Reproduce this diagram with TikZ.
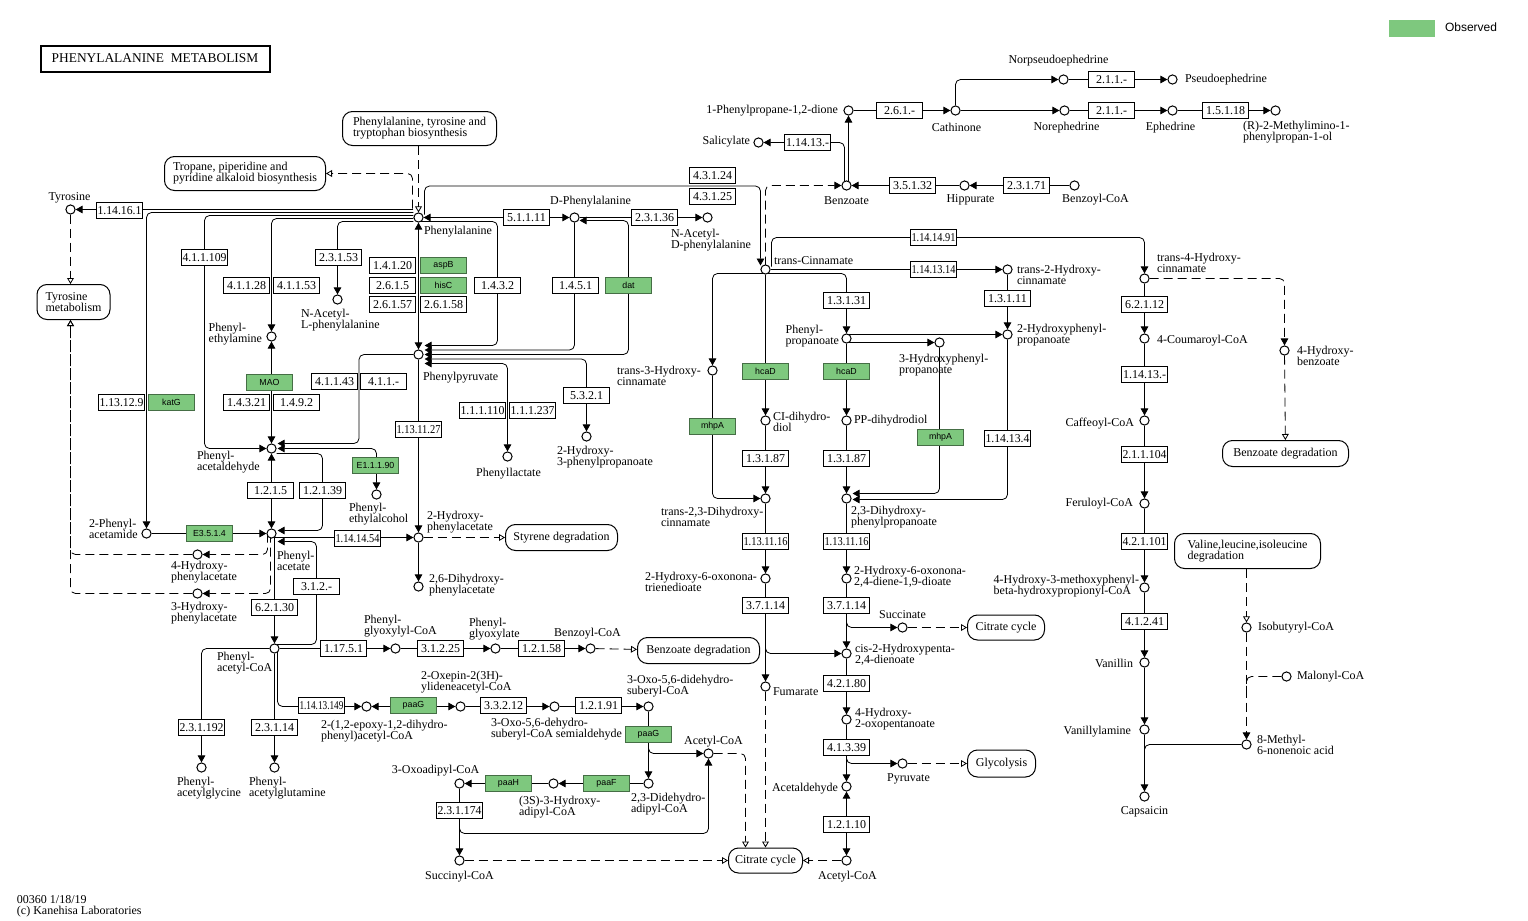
\documentclass[tikz,border=0pt]{standalone}
\usepackage{fontspec}
\setmainfont{Liberation Serif}
\newfontfamily\keggsans{Liberation Sans}
\usepackage{graphicx}
\usetikzlibrary{arrows.meta,calc,backgrounds}
\definecolor{obsGreen}{RGB}{126,200,126}
\newcommand\lblfont{\fontsize{6}{5.6}\selectfont}
\newcommand\ecfont{\fontsize{6}{6}\selectfont}
\newcommand\obsfont{\keggsans\fontsize{4.4}{5}\selectfont}
\newsavebox\ecbox
\newcommand\ecfit[1]{\sbox\ecbox{#1}\ifdim\wd\ecbox>22pt\resizebox{22pt}{\height}{\usebox\ecbox}\else\usebox\ecbox\fi}

\begin{document}
\begin{tikzpicture}[x=0.5pt,y=-0.5pt,line width=0.5pt,
    cpd/.style={circle,draw,fill=white,inner sep=0pt,minimum size=4.6pt},
    ec/.style={draw,fill=white,inner sep=0pt,minimum width=23pt,minimum height=8.2pt,font=\ecfont},
    obs/.style={ec,fill=obsGreen,draw=obsGreen!55!black,font=\obsfont},
    mapbox/.style={draw,fill=white,rounded corners=5pt,inner sep=0pt,font=\lblfont,align=left},
    lbl/.style={inner sep=0pt,font=\lblfont,align=left},
    rx/.style={-{Triangle[length=3.5pt,width=3.8pt]}},
    rxb/.style={{Triangle[length=3.5pt,width=3.8pt]}-{Triangle[length=3.5pt,width=3.8pt]}},
    dsh/.style={dash pattern=on 4.5pt off 2.5pt},
    dl/.style={dsh,-{Triangle[open,length=3pt,width=3.4pt]}}]
  \useasboundingbox (-0.5,-0.5) rectangle (1527.5,920.5);

  % ── TITLE, LEGEND, FOOTER ──────────────────────────────
  \node[draw,line width=1pt,minimum width=114.5pt,minimum height=13pt,inner sep=0pt,
        font=\fontsize{6.7}{7}\selectfont] (title) at (154.5,58) {PHENYLALANINE\ \ METABOLISM};
  \node[fill=obsGreen,minimum width=23pt,minimum height=8.5pt,inner sep=0pt] (legkey) at (1411,28) {};
  \node[anchor=west,inner sep=0pt,font=\keggsans\fontsize{6}{7}\selectfont] (legtext) at (1444,27) {Observed};
  \node[lbl,anchor=west] (footer) at (16,905.5) {00360 1/18/19\\(c) Kanehisa Laboratories};

  % ── MAPS ───────────────────────────────────────────────
  \node[mapbox,minimum width=77pt,minimum height=17pt] (mPheBio) at (419,128) {Phenylalanine, tyrosine and\\tryptophan biosynthesis};
  \node[mapbox,minimum width=80.5pt,minimum height=17pt] (mTrop) at (244.5,173) {Tropane, piperidine and\\pyridine alkaloid biosynthesis};
  \node[mapbox,minimum width=36.5pt,minimum height=17.5pt] (mTyr) at (73,301.5) {Tyrosine\\metabolism};
  \node[mapbox,minimum width=56pt,minimum height=13pt] (mSty) at (561,537) {Styrene degradation};
  \node[mapbox,minimum width=61pt,minimum height=13pt] (mBzd1) at (698,650) {Benzoate degradation};
  \node[mapbox,minimum width=38.5pt,minimum height=12.5pt] (mCit1) at (1005.5,627) {Citrate cycle};
  \node[mapbox,minimum width=34pt,minimum height=13.5pt] (mGly) at (1001,763) {Glycolysis};
  \node[mapbox,minimum width=37pt,minimum height=12.5pt] (mCit2) at (765,860) {Citrate cycle};
  \node[mapbox,minimum width=63pt,minimum height=13pt] (mBzd2) at (1285,453) {Benzoate degradation};
  \node[mapbox,minimum width=73pt,minimum height=17.5pt] (mVal) at (1247,550.5) {Valine,leucine,isoleucine\\degradation};

  % ── COMPOUNDS ──────────────────────────────────────────
  \foreach \nm/\x/\y in {tyr/70/209, phe/418/217, dphe/574/217, nacdphe/707/217, nacphe/337/299,
      pea/271/336, paald/271/448, peol/376/494, pacam/146/533, pac/271/533, hpac4/197/554,
      hpac3/197/593, ppyr/418/354, plac/507/456, hpp2/586/436, ohpac/418/537, dhpac/418/586,
      paccoa/274/648, pacgly/201/767, pacgln/274/767, pglxcoa/395/648, pglx/495/648,
      bzcoa1/590/648, epox/366/706, oxep/460/706, oxsa/554/706, oxdd/648/706, ddad/648/783,
      hyad/553/783, oxad/459/783, succoa/459/860, accoa1/708/753}
    \node[cpd] (\nm) at (\x,\y) {};
  \foreach \nm/\x/\y in {cinn/765/269, hcinn3/712/370, cidiol/765/420, dhcinn/765/498,
      hodt/765/578, fum/765/686, pprop/846/338, hpprop3/939/342, hpprop2/1007/334,
      hcinn2/1007/269, ppdiol/846/420, dhpp/846/498, hodd/846/578, succ/902/627, chpd/846/653,
      hop/846/719, pyr/902/763, acald/846/786, accoa2/846/860, bz/846/185, hipp/964/185,
      bzcoa2/1074/185, sal/758/142, ppd/848/110, cath/955/110, npse/1063/79, pse/1172/79,
      neph/1064/110, eph/1172/110, mip/1275/110}
    \node[cpd] (\nm) at (\x,\y) {};
  \foreach \nm/\x/\y in {hcinn4/1144/278, coum/1144/338, caff/1144/420, fer/1144/503,
      hmp/1144/587, van/1144/662, vana/1144/729, caps/1144/796, hbz/1284/350,
      ibcoa/1246/627, mnoa/1246/744, malcoa/1286/676}
    \node[cpd] (\nm) at (\x,\y) {};

  % ── ENZYMES ────────────────────────────────────────────
  \foreach \nm/\x/\y/\txt in {e114161/119/210/1.14.16.1, e41109/204/257/4.1.1.109,
      e41128/246/285/4.1.1.28, e41153/296/285/4.1.1.53, e23153/338/257/2.3.1.53,
      e14120/392/265/1.4.1.20, e2615/392/285/2.6.1.5, e26157/392/304/2.6.1.57,
      e26158/443/304/2.6.1.58, e1432/497/285/1.4.3.2, e51111/526/217/5.1.1.11,
      e23136/654/217/2.3.1.36, e1451/575/285/1.4.5.1, e43124/712/175/4.3.1.24,
      e43125/712/196/4.3.1.25, e113129/121/402/1.13.12.9, e14321/246/402/1.4.3.21,
      e1492/296/402/1.4.9.2, e41143/334/381/4.1.1.43, e411x/383/381/4.1.1.-,
      e1215/270/490/1.2.1.5, e12139/322/490/1.2.1.39, e1141454/357/538/1.14.14.54,
      e312x/316/586/3.1.2.-, e62130/274/607/6.2.1.30, e111110/482/410/1.1.1.110,
      e111237/532/410/1.1.1.237, e5321/586/395/5.3.2.1, e1131127/418/429/1.13.11.27,
      e231192/201/727/2.3.1.192, e23114/274/727/2.3.1.14, e11751/343/648/1.17.5.1,
      e31225/440/648/3.1.2.25, e12158/541/648/1.2.1.58, e11413149/321/705/1.14.13.149,
      e33212/503/705/3.3.2.12, e12191/598/705/1.2.1.91, e231174/459/810/2.3.1.174}
    \node[ec] (\nm) at (\x,\y) {\ecfit{\txt}};
  \foreach \nm/\x/\y/\txt in {e11413x/807/142/1.14.13.-, e2616x/899/110/2.6.1.-,
      e35132/912/185/3.5.1.32, e23171/1026/185/2.3.1.71, e211a/1111/79/2.1.1.-,
      e211b/1111/110/2.1.1.-, e15118/1225/110/1.5.1.18, e1141491/933/237/1.14.14.91,
      e1141314/933/269/1.14.13.14, e1331/846/300/1.3.1.31, e13111/1007/298/1.3.1.11,
      e1387a/765/458/1.3.1.87, e1387b/846/458/1.3.1.87, e1141134/1007/438/1.14.13.4,
      e1131116a/765/541/1.13.11.16, e1131116b/846/541/1.13.11.16, e37114a/765/605/3.7.1.14,
      e37114b/846/605/3.7.1.14, e42180/846/683/4.2.1.80, e41339/846/747/4.1.3.39,
      e12110/846/824/1.2.1.10, e62112/1144/304/6.2.1.12, e11413y/1144/374/1.14.13.-,
      e211104/1144/454/2.1.1.104, e421101/1144/541/4.2.1.101, e41241/1144/621/4.1.2.41}
    \node[ec] (\nm) at (\x,\y) {\ecfit{\txt}};
  \foreach \nm/\x/\y/\txt in {oaspB/443/265/aspB, ohisC/443/285/hisC, odat/628/285/dat,
      okatG/171/402/katG, oMAO/269/382/MAO, oE11190/375/465/E1.1.1.90, oE3514/209/533/E3.5.1.4,
      ohcaDa/765/371/hcaD, ohcaDb/846/371/hcaD, omhpAa/712/426/mhpA, omhpAb/940/437/mhpA,
      opaaGa/413/705/paaG, opaaGb/648/734/paaG, opaaF/606/783/paaF, opaaH/508/783/paaH}
    \node[obs] (\nm) at (\x,\y) {\txt};

  % ── COMPOUND NAMES ─────────────────────────────────────
  \foreach \nm/\an/\x/\y/\txt in {ltyr/center/69/197/Tyrosine, lphe/west/423/231/Phenylalanine,
      ldphe/center/590/201/D-Phenylalanine, lnacdphe/west/670/240/{N-Acetyl-\\D-phenylalanine},
      lpea/east/262/334/{Phenyl-\\ethylamine}, lnacphe/west/300/320/{N-Acetyl-\\L-phenylalanine},
      lpaald/west/196/462/{Phenyl-\\acetaldehyde}, lpeol/west/348/514/{Phenyl-\\ethylalcohol},
      lpacam/west/88/528/{2-Phenyl-\\acetamide}, lpac/west/276/560/{Phenyl-\\acetate},
      lhpac4/west/170/572/{4-Hydroxy-\\phenylacetate}, lhpac3/west/170/613/{3-Hydroxy-\\phenylacetate},
      lppyr/west/422/377/Phenylpyruvate, lplac/center/508/473/Phenyllactate,
      lhpp2/west/556/457/{2-Hydroxy-\\3-phenylpropanoate}, lohpac/west/426/522/{2-Hydroxy-\\phenylacetate},
      ldhpac/west/428/585/{2,6-Dihydroxy-\\phenylacetate}, lpaccoa/west/216/663/{Phenyl-\\acetyl-CoA},
      lpacgly/west/176/788/{Phenyl-\\acetylglycine}, lpacgln/west/248/788/{Phenyl-\\acetylglutamine},
      lepox/west/320/731/{2-(1,2-epoxy-1,2-dihydro-\\phenyl)acetyl-CoA},
      lpglxcoa/west/363/626/{Phenyl-\\glyoxylyl-CoA}, lpglx/west/468/629/{Phenyl-\\glyoxylate},
      lbzcoa1/center/587/633/Benzoyl-CoA, loxep/west/420/682/{2-Oxepin-2(3H)-\\ylideneacetyl-CoA},
      loxsa/west/490/729/{3-Oxo-5,6-dehydro-\\suberyl-CoA semialdehyde},
      loxdd/west/626/686/{3-Oxo-5,6-didehydro-\\suberyl-CoA}, laccoa1/center/713/741/Acetyl-CoA,
      loxad/center/435/770/3-Oxoadipyl-CoA, lhyad/west/518/807/{(3S)-3-Hydroxy-\\adipyl-CoA},
      lddad/west/630/804/{2,3-Didehydro-\\adipyl-CoA}, lsuccoa/center/459/876/Succinyl-CoA}
    \node[lbl,anchor=\an] (\nm) at (\x,\y) {\txt};
  \foreach \nm/\an/\x/\y/\txt in {lcinn/west/773/260/trans-Cinnamate, lsal/east/750/141/Salicylate,
      lppd/east/838/110/{1-Phenylpropane-1,2-dione}, lbz/center/846/200/Benzoate,
      lhipp/center/970/199/Hippurate, lbzcoa2/center/1095/199/Benzoyl-CoA,
      lcath/center/956/127/Cathinone, lnpse/center/1058/60/Norpseudoephedrine,
      lneph/center/1066/127/Norephedrine, lpse/west/1184/79/Pseudoephedrine,
      leph/center/1170/127/Ephedrine, lmip/west/1242/132/{(R)-2-Methylimino-1-\\phenylpropan-1-ol},
      lhcinn2/west/1016/274/{trans-2-Hydroxy-\\cinnamate}, lhcinn3/west/616/375/{trans-3-Hydroxy-\\cinnamate},
      lhcinn4/west/1156/262/{trans-4-Hydroxy-\\cinnamate}, lpprop/east/839/336/{Phenyl-\\propanoate},
      lhpprop3/west/898/365/{3-Hydroxyphenyl-\\propanoate}, lhpprop2/west/1016/335/{2-Hydroxyphenyl-\\propanoate},
      lcidiol/west/772/421/{CI-dihydro-\\diol}, lppdiol/west/853/420/PP-dihydrodiol,
      ldhcinn/west/660/516/{trans-2,3-Dihydroxy-\\cinnamate}, ldhpp/west/850/517/{2,3-Dihydroxy-\\phenylpropanoate},
      lhodt/west/644/581/{2-Hydroxy-6-oxonona-\\trienedioate},
      lhodd/west/853/576/{2-Hydroxy-6-oxonona-\\2,4-diene-1,9-dioate},
      lsucc/center/902/614/Succinate, lchpd/west/854/654/{cis-2-Hydroxypenta-\\2,4-dienoate},
      lfum/west/772/691/Fumarate, lhop/west/854/719/{4-Hydroxy-\\2-oxopentanoate},
      lpyr/center/908/778/Pyruvate, lacald/east/838/788/Acetaldehyde, laccoa2/center/847/876/Acetyl-CoA}
    \node[lbl,anchor=\an] (\nm) at (\x,\y) {\txt};
  \foreach \nm/\an/\x/\y/\txt in {lcoum/west/1156/340/4-Coumaroyl-CoA, lcaff/east/1134/423/Caffeoyl-CoA,
      lfer/east/1133/503/Feruloyl-CoA,
      lhmp/east/1139/586/{4-Hydroxy-3-methoxyphenyl-\\beta-hydroxypropionyl-CoA},
      lhbz/west/1296/355/{4-Hydroxy-\\benzoate}, lvan/east/1133/663/Vanillin,
      lvana/east/1131/731/Vanillylamine, lcaps/center/1144/811/Capsaicin,
      libcoa/west/1257/627/Isobutyryl-CoA, lmalcoa/west/1296/676/Malonyl-CoA,
      lmnoa/west/1256/744/{8-Methyl-\\6-nonenoic acid}}
    \node[lbl,anchor=\an] (\nm) at (\x,\y) {\txt};

  % arrow ends stacked on phenylpyruvate
  \coordinate (pp1) at ($(ppyr.east)+(1,-9)$);
  \coordinate (pp2) at ($(ppyr.east)+(1,-4.5)$);
  \coordinate (pp3) at ($(ppyr.east)+(1,0)$);
  \coordinate (pp4) at ($(ppyr.east)+(1,4.5)$);
  \coordinate (pp5) at ($(ppyr.east)+(1,9)$);

  \begin{scope}[on background layer]
    \fill[white] (-0.5,-0.5) rectangle (1527.5,920.5);
  \end{scope}
  \begin{scope}[on background layer,rounded corners=2.5pt]
    % ── PHENYLALANINE ──────────────────────────────────────
    \draw[rx] ($(phe.west)+(0,-8)$) -- (tyr);
    \draw[rx] ($(phe.west)+(0,-5)$) -| (pacam);
    \draw[rx] ($(phe.west)+(0,-2)$) -| (e41109.center |- paald) -- (paald);
    \draw[rx] ($(phe.west)+(0,1)$) -| (pea);
    \draw[rx] ($(phe.west)+(0,4)$) -| (nacphe);
    \draw[dl] ($(phe)+(-6,-9)$) |- (mTrop);
    \draw[dl] (mPheBio.south -| phe) -- (phe);
    \draw[dl] (tyr) -- (tyr |- mTyr.north);
    \draw[rxb] (phe) -- (dphe);
    \draw[rx] (dphe) -- (nacdphe);
    \draw[rxb] (phe) -- (ppyr);
    \draw[rx] ($(phe)+(6,-3)$) |- ($(e43124.south)!0.5!(e43125.north)$) -| ($(cinn)+(-5,-4)$);
    \draw[rx] ($(phe)+(0,4)$) -| (e1432.center |- pp1) -- (pp1);
    \draw[rx] (dphe) |- (pp2);
    \draw[rxb] (pp3) -| ($(odat.center |- dphe)+(0,3)$) -- ($(dphe.east)+(0,3)$);
    \draw[rxb] (pp4) -| (hpp2);
    \draw[rxb] (pp5) -| (plac);
    \draw[rx] (ppyr) -- (ohpac);
    \draw[rx] (ohpac) -- (dhpac);
    \draw[dl] (ohpac) -- (mSty);
    \draw[rx] (ppyr) -| ($(e41143)!0.5!(e411x)$) |- ($(paald.east)+(1,-5)$);

    % ── PHENYLACETALDEHYDE / PHENYLACETATE ─────────────────
    \draw[rxb] (pea) -- (paald);
    \draw[rxb] ($(paald.east)+(1,0)$) -| (peol);
    \draw[rx] ($(paald.east)+(0,5)$) -| ($(e12139.center |- pac)+(0,-3)$) -- ($(pac.east)+(1,-3)$);
    \draw[rxb] (paald) -- (pac);
    \draw[rx] (pacam) -- (pac);
    \draw[rx] ($(pac)+(0,4)$) -- (ohpac);
    \draw[rx] ($(paccoa)+(2,-4)$) -| ($(e312x.center |- pac)+(0,8)$) -- ($(pac.east)+(1,8)$);
    \draw[rx] ($(pac)+(3,0)$) -- (paccoa);
    \draw[rx,dsh] ($(pac)+(-4,0)$) |- (hpac4);
    \draw[rx,dsh] ($(pac)+(-1,0)$) |- (hpac3);
    \draw[dl] (hpac4) -| ($(mTyr.south)+(-3,0)$);
    \draw[dl] (hpac3) -| ($(mTyr.south)+(-3,0)$);

    % ── PHENYLACETYL-COA ───────────────────────────────────
    \draw[rx] (paccoa) -| (pacgly);
    \draw[rx] (paccoa) -- (pacgln);
    \draw[rx] (paccoa) -- (pglxcoa);
    \draw[rx] (pglxcoa) -- (pglx);
    \draw[rx] (pglx) -- (bzcoa1);
    \draw[dl] (bzcoa1) -- (mBzd1);
    \draw[rx] ($(paccoa)+(3,0)$) |- (epox);
    \draw[rxb] (epox) -- (oxep);
    \draw[rx] (oxep) -- (oxsa);
    \draw[rx] (oxsa) -- (oxdd);
    \draw[rx] (oxdd) -- (ddad);
    \draw[rx] ($(opaaGb.south)+(0,2)$) |- (accoa1);
    \draw[rx] (ddad) -- (hyad);
    \draw[rx] (hyad) -- (oxad);
    \draw[rx] (oxad) -- (succoa);
    \draw[rx] ($(e231174.south)+(0,3)$) |- ($(accoa1)+(0,80)$) -- (accoa1);
    \draw[dl] (succoa) -- (mCit2);
    \draw[dl] (accoa1) -| ($(mCit2.north)+(-20,0)$);

    % ── CINNAMATE ──────────────────────────────────────────
    \draw[rx,dsh] ($(cinn)+(0,-4)$) |- (bz);
    \draw[rx] ($(cinn)+(6,-3)$) |- (e1141491.center) -| (hcinn4);
    \draw[rx] (cinn) -- (hcinn2);
    \draw[rx] ($(cinn)+(0,4)$) -| (hcinn3);
    \draw[rx] ($(cinn)+(0,4)$) -| (pprop);
    \draw[rx] (cinn) -- (cidiol);
    \draw[rx] (cidiol) -- (dhcinn);
    \draw[rx] (hcinn3) |- (dhcinn);
    \draw[rx] (dhcinn) -- (hodt);
    \draw[rx] (hodt) -- (fum);
    \draw[rx] ($(e37114a.south)+(0,27)$) |- (chpd);
    \draw[dl] (fum) -- (fum |- mCit2.north);
    \draw[rx] (hcinn2) -- (hpprop2);
    \draw[rx] ($(pprop)+(0,-4)$) -- (hpprop2);
    \draw[rx] ($(pprop)+(0,4)$) -- (hpprop3);
    \draw[rx] (pprop) -- (ppdiol);
    \draw[rx] (ppdiol) -- (dhpp);
    \draw[rx] (hpprop3) |- ($(dhpp.east)+(1,-5)$);
    \draw[rx] (hpprop2) |- ($(dhpp.east)+(1,1)$);
    \draw[rx] (dhpp) -- (hodd);
    \draw[rx] (hodd) -- (chpd);
    \draw[rx] ($(e37114b.south)+(0,3)$) |- (succ);
    \draw[dl] (succ) -- (mCit1);
    \draw[rx] (chpd) -- (hop);
    \draw[rx] (hop) -- (acald);
    \draw[rx] ($(e41339.south)+(0,2)$) |- (pyr);
    \draw[dl] (pyr) -- (mGly);
    \draw[rxb] (acald) -- (accoa2);
    \draw[dl] (accoa2) -- (mCit2);

    % ── BENZOATE / EPHEDRINE ───────────────────────────────
    \draw[rx] (hipp) -- (bz);
    \draw[rx] (bzcoa2) -- (hipp);
    \draw[rx] ($(bz)+(-2,-4)$) |- (sal);
    \draw[rx] ($(bz)+(2,-4)$) -- (ppd.south);
    \draw[rx] (ppd) -- (cath);
    \draw[rx] (cath) -- (neph);
    \draw[rx] (cath) |- (npse);
    \draw[rx] (npse) -- (pse);
    \draw[rx] (neph) -- (eph);
    \draw[rx] (eph) -- (mip);

    % ── COUMAROYL-COA / CAPSAICIN ──────────────────────────
    \draw[rx] (hcinn4) -- (coum);
    \draw[rx] (coum) -- (caff);
    \draw[rx] (caff) -- (fer);
    \draw[rx] (fer) -- (hmp);
    \draw[rx] (hmp) -- (van);
    \draw[rx] (van) -- (vana);
    \draw[rx] (vana) -- (caps);
    \draw (mnoa) -| ($(vana)+(0,28)$);
    \draw[rx,dsh] (hcinn4) -| (hbz);
    \draw[dl] (hbz) -- (mBzd2);
    \draw[dl] (mVal.south -| ibcoa) -- (ibcoa);
    \draw[rx,dsh] (ibcoa) -- (mnoa);
    \draw[dsh] (malcoa) -| ($(ibcoa)+(0,64)$);
  \end{scope}

\end{tikzpicture}
\end{document}
